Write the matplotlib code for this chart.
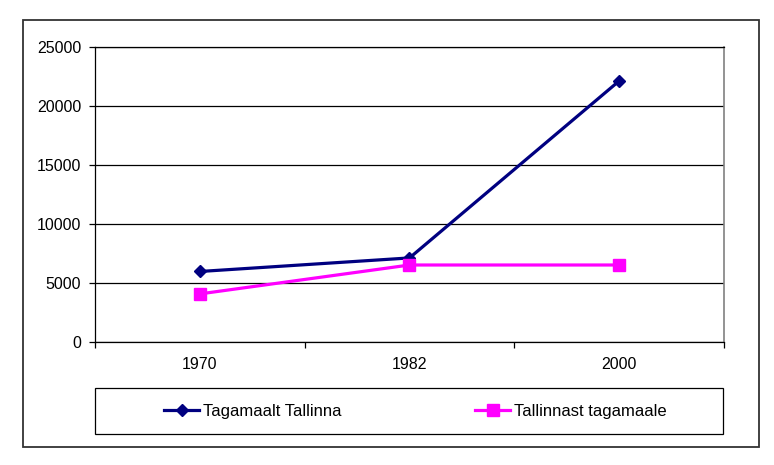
import matplotlib.pyplot as plt
from matplotlib.patches import Rectangle

years = ['1970', '1982', '2000']
tagamaalt_tallinna = [5950, 7100, 22100]
tallinnast_tagamaale = [4050, 6500, 6500]
y_ticks = [0, 5000, 10000, 15000, 20000, 25000]

plt.rcParams['font.family'] = ['Liberation Sans', 'DejaVu Sans']
plt.rcParams['font.size'] = 11.5

fig = plt.figure(figsize=(7.74, 4.65), dpi=100)
W, H = 774, 465

# outer chart border
fig.patches.append(Rectangle((23 / W, 1 - 447 / H), (759 - 23) / W, (447 - 20) / H,
                             transform=fig.transFigure, fill=False,
                             edgecolor='#333333', linewidth=1.3))
# legend frame
fig.patches.append(Rectangle((95 / W, 1 - 434 / H), (723 - 95) / W, 46 / H,
                             transform=fig.transFigure, fill=False,
                             edgecolor='black', linewidth=0.9))

ax = fig.add_axes([95 / W, 1 - 341.7 / H, (724 - 95) / W, (341.7 - 46.7) / H])
x = range(len(years))
ax.plot(x, tagamaalt_tallinna, color='#000080', lw=2.3, marker='D', ms=6.3,
        label='Tagamaalt Tallinna')
ax.plot(x, tallinnast_tagamaale, color='#FF00FF', lw=2.3, marker='s', ms=8.8,
        label='Tallinnast tagamaale')

ax.set_xlim(-0.5, len(years) - 0.5)
ax.set_ylim(0, 25000)
ax.set_yticks(y_ticks)
ax.yaxis.grid(True, color='black', lw=0.9)
ax.set_axisbelow(True)

# category boundaries as ticks, labels in the middle
ax.set_xticks([i - 0.5 for i in range(len(years) + 1)])
ax.set_xticklabels([])
ax.set_xticks(list(x), minor=True)
ax.set_xticklabels(years, minor=True)
ax.tick_params(axis='x', which='major', direction='out', length=4, width=0.9)
ax.tick_params(axis='x', which='minor', length=0, pad=11)
ax.tick_params(axis='y', direction='out', length=4, width=0.9, pad=6)

for s in ['left', 'bottom', 'top']:
    ax.spines[s].set_color('black')
    ax.spines[s].set_linewidth(0.9)
ax.spines['right'].set_color('#808080')
ax.spines['right'].set_linewidth(1.2)

fig.legend(loc='center', bbox_to_anchor=(415 / W, 1 - 411 / H), ncol=2,
           frameon=False, handlelength=2.15, handletextpad=0.2,
           columnspacing=8, fontsize=12)

fig.savefig('out.png', dpi=100)
